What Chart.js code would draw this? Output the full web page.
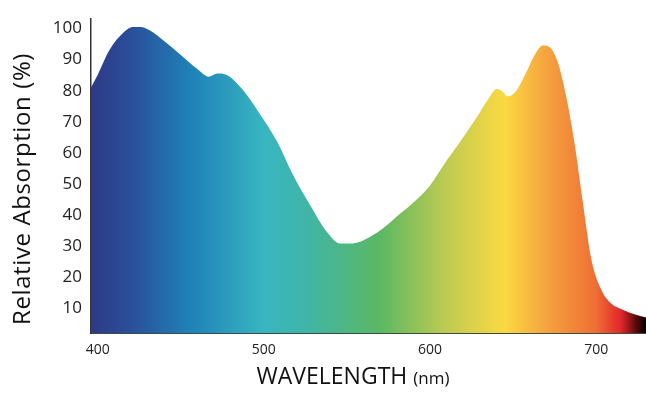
<!DOCTYPE html>
<html>
<head>
<meta charset="utf-8">
<script src="https://cdn.jsdelivr.net/npm/chart.js@4.4.0/dist/chart.umd.min.js"></script>
<style>
  html, body { margin: 0; padding: 0; background: #fff; }
  #wrap { width: 646px; height: 395px; }
</style>
</head>
<body>
<div id="wrap"><canvas id="spectrum"></canvas></div>
<script>
// wavelength (nm) and relative absorption (%)
var wavelengths = [396, 400, 407, 416, 421, 426, 431, 440, 450, 460, 467, 472, 477, 487, 497, 508, 517, 528, 538, 546, 552, 558, 565, 572, 580, 590, 600, 610, 620, 630, 636, 640, 643, 647, 652, 658, 663, 668, 672, 677, 682, 687, 692, 697, 703, 709, 716, 723, 730];
var absorption  = [81, 85, 93, 99, 100.5, 100.5, 99.5, 96, 91.5, 87, 84.5, 85.5, 85.2, 80.5, 73, 63.6, 53.5, 43, 34.5, 30.8, 30.8, 31.4, 33.3, 35.8, 39.5, 44, 49.5, 57.5, 65, 73, 78, 80.5, 80, 78.2, 80, 86, 91.5, 94.5, 94, 89, 78, 63, 44, 26, 16, 11.5, 9.5, 8, 7];
var xTicks = [400, 500, 600, 700];
var yTicks = [10, 20, 30, 40, 50, 60, 70, 80, 90, 100];

// spectrum colours along the x axis
var stopNm  = [396, 420, 455, 500, 525, 570, 610, 645, 670, 700, 715, 724, 730];
var stopCol = ['#2d3a86', '#2b4f9a', '#1f80b8', '#38b6c1', '#3fb5a8', '#5bb863', '#bfcb52', '#fbd942', '#f5a33f', '#ef6e34', '#e2262a', '#5a0a0a', '#000000'];

function spectrumFill(ctx) {
    var chart = ctx.chart;
    var area = chart.chartArea;
    if (!area) return '#2d3a86';
    var xs = chart.scales.x;
    var g = chart.ctx.createLinearGradient(area.left, 0, area.right, 0);
    var w = area.right - area.left;
    for (var i = 0; i < stopNm.length; i++) {
        var p = (xs.getPixelForValue(stopNm[i]) - area.left) / w;
        g.addColorStop(Math.min(1, Math.max(0, p)), stopCol[i]);
    }
    return g;
}

// axis titles drawn by hand: mixed font sizes and an off-centre position
var axisTitles = {
    id: 'axisTitles',
    afterDraw: function(chart) {
        var c = chart.ctx;
        c.save();
        c.fillStyle = '#111';
        c.textBaseline = 'alphabetic';
        c.font = '23px "Open Sans"';
        var a = 'WAVELENGTH ';
        var wa = c.measureText(a).width;
        c.font = '17px "Open Sans"';
        var b = '(nm)';
        var wb = c.measureText(b).width;
        var x0 = 353 - (wa + wb) / 2;
        c.font = '23px "Open Sans"';
        c.fillText(a, x0, 384);
        c.font = '17px "Open Sans"';
        c.fillText(b, x0 + wa, 384);

        c.translate(23, 189);
        c.rotate(-Math.PI / 2);
        c.font = '24px "Open Sans"';
        c.letterSpacing = '0.6px';
        c.textAlign = 'center';
        c.textBaseline = 'middle';
        c.fillText('Relative Absorption (%)', 0, 0);
        c.restore();
    }
};

var data = wavelengths.map(function(w, i) { return {x: w, y: absorption[i]}; });

new Chart(document.getElementById('spectrum'), {
    type: 'line',
    data: {
        datasets: [{
            data: data,
            fill: 'start',
            backgroundColor: spectrumFill,
            borderWidth: 0,
            pointRadius: 0,
            cubicInterpolationMode: 'monotone'
        }]
    },
    options: {
        responsive: true,
        maintainAspectRatio: false,
        animation: false,
        layout: { padding: { top: 12, right: 0, left: 0, bottom: 0 } },
        plugins: { legend: { display: false }, tooltip: { enabled: false } },
        scales: {
            x: {
                type: 'linear',
                min: 396,
                max: 730,
                afterFit: function(s) { s.height = 62; },
                afterBuildTicks: function(s) { s.ticks = xTicks.map(function(v) { return {value: v}; }); },
                grid: { display: false, drawTicks: false },
                border: { color: '#3d4b47', width: 2 },
                ticks: { color: '#222', font: { family: 'Open Sans', size: 14 }, padding: 9, maxRotation: 0 }
            },
            y: {
                min: 2,
                max: 103,
                afterFit: function(s) { s.width = 91; },
                afterBuildTicks: function(s) { s.ticks = yTicks.map(function(v) { return {value: v}; }); },
                grid: { display: false, drawTicks: false },
                border: { color: '#333', width: 1.5 },
                ticks: { color: '#222', font: { family: 'Open Sans', size: 17 }, padding: 9 }
            }
        }
    },
    plugins: [axisTitles]
});
</script>
</body>
</html>
